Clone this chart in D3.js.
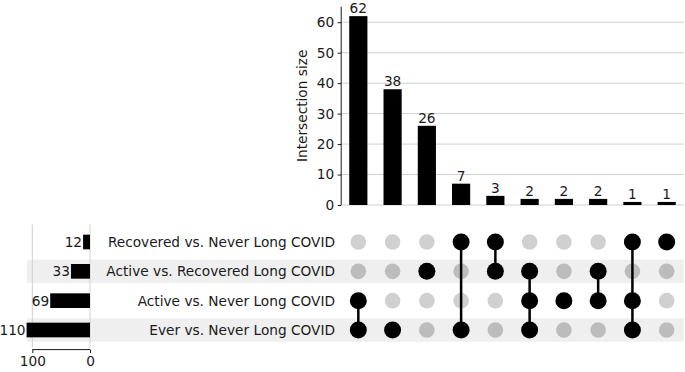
<!DOCTYPE html>
<html>
<head>
<meta charset="utf-8">
<script src="https://cdn.jsdelivr.net/npm/d3@7"></script>
<style>
  body { margin: 0; background: #fff; }
  svg { font-family: "DejaVu Sans", sans-serif; }
</style>
</head>
<body>
<div id="chart"></div>
<script>
// sets, top row first
var setNames = ["Recovered vs. Never Long COVID", "Active vs. Recovered Long COVID",
                "Active vs. Never Long COVID", "Ever vs. Never Long COVID"];
var setSizes = [12, 33, 69, 110];

// intersections, left to right
var intersectionSizes = [62, 38, 26, 7, 3, 2, 2, 2, 1, 1];
var intersectionMembers = [[2, 3], [3], [1], [0, 3], [0, 1], [1, 2, 3], [2], [1, 2], [0, 2, 3], [0]];

var yTicks = [0, 10, 20, 30, 40, 50, 60];
var setTicks = [100, 0];

var width = 685, height = 372;
var fs = "13.7px", ink = "#1a1a1a";
var svg = d3.select("#chart").append("svg")
    .attr("width", width)
    .attr("height", height);

var cols = d3.range(intersectionSizes.length);
var x = d3.scaleBand()
    .domain(cols)
    .range([341.2, 683.8])
    .paddingInner(0.47)
    .paddingOuter(0.235);

var y = d3.scaleLinear()
    .domain([0, d3.max(intersectionSizes) * 1.05])
    .range([205, 6.7]);

var row = d3.scalePoint()
    .domain(d3.range(setNames.length))
    .range([242, 330]);
var rowStep = row.step();

var sx = d3.scaleLinear()
    .domain([0, d3.max(setSizes) * 1.05])
    .range([90, 23.4]);

// shading of alternating rows
svg.append("g").selectAll("rect")
    .data(d3.range(setNames.length).filter(function (i) { return i % 2 == 1; }))
    .enter().append("rect")
    .attr("x", 27)
    .attr("width", 683.8 - 27)
    .attr("y", function (i) { return row(i) - rowStep * 0.4; })
    .attr("height", rowStep * 0.8)
    .attr("fill", "#efefef");

// ---- intersection size bars
var grid = svg.append("g");
grid.selectAll("line")
    .data(yTicks)
    .enter().append("line")
    .attr("x1", x.range()[0])
    .attr("x2", x.range()[1])
    .attr("y1", function (d) { return y(d); })
    .attr("y2", function (d) { return y(d); })
    .attr("stroke", "#cfcfcf")
    .attr("stroke-width", 1);

svg.append("g").selectAll("rect")
    .data(cols)
    .enter().append("rect")
    .attr("x", function (i) { return x(i); })
    .attr("width", x.bandwidth())
    .attr("y", function (i) { return y(intersectionSizes[i]); })
    .attr("height", function (i) { return y(0) - y(intersectionSizes[i]); })
    .attr("fill", "#000");

svg.append("g").selectAll("text")
    .data(cols)
    .enter().append("text")
    .attr("x", function (i) { return x(i) + x.bandwidth() / 2; })
    .attr("y", function (i) { return y(intersectionSizes[i]) - 3; })
    .attr("text-anchor", "middle")
    .attr("font-size", fs)
    .attr("fill", ink)
    .text(function (i) { return intersectionSizes[i]; });

var yAxis = svg.append("g")
    .attr("transform", "translate(" + x.range()[0] + ",0)")
    .call(d3.axisLeft(y).tickValues(yTicks).tickSize(3.5).tickPadding(3.5));
yAxis.select(".domain").attr("d", "M0," + y.range()[1] + "V" + y.range()[0]).attr("stroke", ink);
yAxis.selectAll(".tick line").attr("stroke", ink);
yAxis.selectAll(".tick text").attr("font-size", fs).attr("font-family", "DejaVu Sans").attr("fill", ink);

svg.append("text")
    .attr("transform", "translate(301.7," + (y.range()[0] + y.range()[1]) / 2 + ") rotate(-90)")
    .attr("text-anchor", "middle")
    .attr("dominant-baseline", "central")
    .attr("font-size", fs)
    .attr("fill", ink)
    .text("Intersection size");

// ---- matrix
var cx = function (i) { return x(i) + x.bandwidth() / 2; };
var matrix = svg.append("g");
cols.forEach(function (c) {
    var members = intersectionMembers[c];
    setNames.forEach(function (s, r) {
        var on = members.indexOf(r) >= 0;
        if (!on) {
            matrix.append("circle")
                .attr("cx", cx(c))
                .attr("cy", row(r))
                .attr("r", 7.8)
                .attr("fill", r % 2 == 1 ? "#bcbcbc" : "#d0d0d0");
        }
    });
    matrix.append("line")
        .attr("x1", cx(c)).attr("x2", cx(c))
        .attr("y1", row(d3.min(members)))
        .attr("y2", row(d3.max(members)))
        .attr("stroke", "#000")
        .attr("stroke-width", 2.5);
    members.forEach(function (r) {
        matrix.append("circle")
            .attr("cx", cx(c))
            .attr("cy", row(r))
            .attr("r", 8.5)
            .attr("fill", "#000");
    });
});

// set labels
svg.append("g").selectAll("text")
    .data(setNames)
    .enter().append("text")
    .attr("x", 335)
    .attr("y", function (d, i) { return row(i); })
    .attr("text-anchor", "end")
    .attr("dominant-baseline", "central")
    .attr("font-size", fs)
    .attr("fill", ink)
    .text(function (d) { return d; });

// ---- set size bars
var top0 = row(0) - rowStep * 0.6, bot0 = row(setNames.length - 1) + rowStep * 0.6;
svg.append("g").selectAll("line")
    .data(setTicks)
    .enter().append("line")
    .attr("x1", function (d) { return sx(d); })
    .attr("x2", function (d) { return sx(d); })
    .attr("y1", top0)
    .attr("y2", bot0)
    .attr("stroke", "#cfcfcf")
    .attr("stroke-width", 1);

svg.append("g").selectAll("rect")
    .data(setSizes)
    .enter().append("rect")
    .attr("x", function (d) { return sx(d); })
    .attr("width", function (d) { return sx(0) - sx(d); })
    .attr("y", function (d, i) { return row(i) - rowStep * 0.25; })
    .attr("height", rowStep * 0.5)
    .attr("fill", "#000");

svg.append("g").selectAll("text")
    .data(setSizes)
    .enter().append("text")
    .attr("x", function (d) { return sx(d) - 1; })
    .attr("y", function (d, i) { return row(i); })
    .attr("text-anchor", "end")
    .attr("dominant-baseline", "central")
    .attr("font-size", fs)
    .attr("fill", ink)
    .text(function (d) { return d; });

var xAxis = svg.append("g")
    .attr("transform", "translate(0," + (bot0 + 2) + ")")
    .call(d3.axisBottom(sx).tickValues(setTicks).tickSize(3.5).tickPadding(3.5));
xAxis.select(".domain").attr("d", "M" + sx(100) + ",0H" + sx(0)).attr("stroke", ink);
xAxis.selectAll(".tick line").attr("stroke", ink);
xAxis.selectAll(".tick text").attr("font-size", fs).attr("font-family", "DejaVu Sans").attr("fill", ink);
</script>
</body>
</html>
